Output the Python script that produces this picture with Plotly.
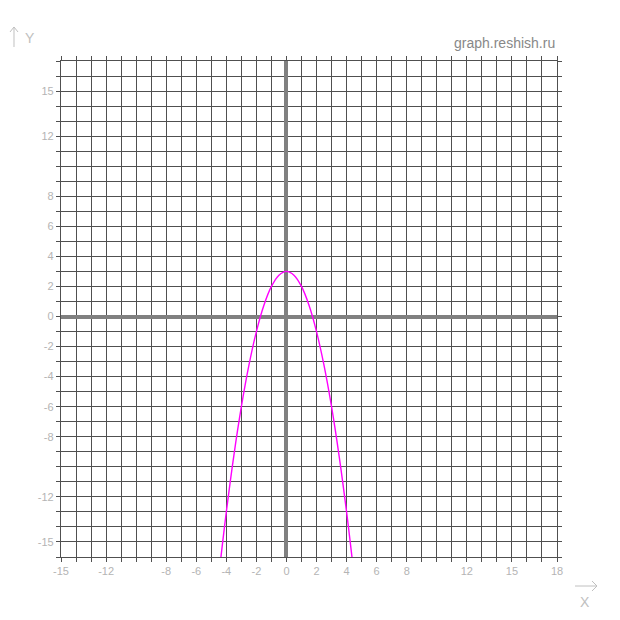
import plotly.graph_objects as go

# curve points
curve_x = [-4.4, -4.0, -3.5, -3.0, -2.5, -2.0, -1.5, -1.0, -0.5, 0.0,
           0.5, 1.0, 1.5, 2.0, 2.5, 3.0, 3.5, 4.0, 4.4]
curve_y = [-16.36, -13.0, -9.25, -6.0, -3.25, -1.0, 0.75, 2.0, 2.75, 3.0,
           2.75, 2.0, 0.75, -1.0, -3.25, -6.0, -9.25, -13.0, -16.36]

x_labels = [-15, -12, -8, -6, -4, -2, 0, 2, 4, 6, 8, 12, 15, 18]
y_labels = [-15, -12, -8, -6, -4, -2, 0, 2, 4, 6, 8, 12, 15]
x_range = [-15, 18]
y_range = [-16, 17]

x_all = list(range(x_range[0], x_range[1] + 1))
y_all = list(range(y_range[0], y_range[1] + 1))

fig = go.Figure()
fig.add_trace(go.Scatter(x=curve_x, y=curve_y, mode="lines",
                         line=dict(color="#ff00ff", width=1.4, shape="spline"),
                         hoverinfo="skip"))

grid_color = "#505050"
FONT = "Arial, Liberation Sans, sans-serif"
lbl_font = dict(family=FONT, size=11, color="#b4b4b4")

common = dict(tickmode="array", showgrid=True, gridcolor=grid_color, gridwidth=1.3,
              ticks="outside", ticklen=4, tickcolor=grid_color, tickwidth=1.3,
              mirror="allticks", showline=True, linecolor=grid_color, linewidth=1.3,
              zeroline=True, zerolinecolor="#808080", zerolinewidth=3.5,
              tickfont=lbl_font, fixedrange=True, automargin=False)
fig.update_xaxes(range=x_range, tickvals=x_all,
                 ticktext=[str(v) if v in x_labels else "" for v in x_all], **common)
fig.update_yaxes(range=y_range, tickvals=y_all,
                 ticktext=[str(v) if v in y_labels else "" for v in y_all], **common)

L, R, T, B = 61, 63, 61, 63
W = H = 620
PW, PH = W - L - R, H - T - B

def pix(px, py):
    return ((px - L) / PW, (H - B - py) / PH)

anns = []
for txt, px, py, size, anchor, col in [
    ("graph.reshish.ru", 557, 43, 14, "right", "#888888"),
    ("Y", 30, 38, 14, "center", "#c0c0c0"),
    ("X", 585, 602, 14, "center", "#c0c0c0"),
]:
    ax, ay = pix(px, py)
    anns.append(dict(text=txt, x=ax, y=ay, xref="paper", yref="paper", showarrow=False,
                     font=dict(family=FONT, size=size, color=col),
                     xanchor=anchor, yanchor="middle"))

# decorative axis arrows (pixel polylines)
arrow_paths = [
    [(14, 47), (14, 27)], [(10, 32), (14, 27), (18, 32)],
    [(575, 586), (597, 586)], [(592, 581), (597, 586), (592, 591)],
]
shapes = []
for pts in arrow_paths:
    coords = [pix(px, py) for px, py in pts]
    d = "M " + " L ".join(f"{cx:.5f},{cy:.5f}" for cx, cy in coords)
    shapes.append(dict(type="path", path=d, xref="paper", yref="paper",
                       line=dict(color="#c0c0c0", width=1)))

fig.update_layout(
    width=W, height=H,
    margin=dict(l=L, r=R, t=T, b=B, autoexpand=False),
    paper_bgcolor="white", plot_bgcolor="white",
    showlegend=False,
    annotations=anns,
    shapes=shapes,
)

fig.write_html("out.html", config={"displayModeBar": False},
               post_script="document.body.style.margin='0';")
